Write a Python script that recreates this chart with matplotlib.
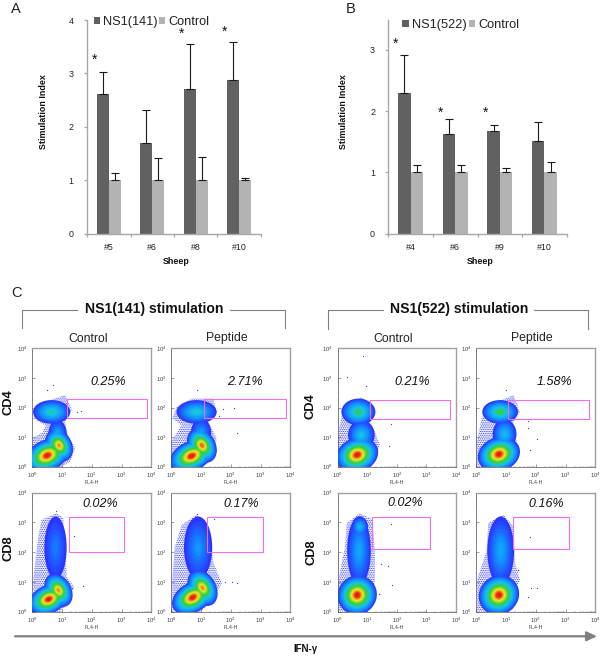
# Stimulation index bars (A, B) and flow cytometry panels (C)
import numpy as np
import matplotlib
matplotlib.use("Agg")
from matplotlib import pyplot as plt
from matplotlib.colors import LinearSegmentedColormap
from matplotlib.patches import Ellipse, Polygon, Rectangle

plt.rcParams['font.family'] = ['Liberation Sans', 'DejaVu Sans']
plt.rcParams['hatch.linewidth'] = 0.6

# bar data, tops are the upper end of the error bars
sheep_a = ["#5", "#6", "#8", "#10"]
ns1_141 = [2.62, 1.70, 2.70, 2.88]
ns1_141_top = [3.02, 2.31, 3.55, 3.58]
control_a = [1, 1, 1, 1]
control_a_top = [1.13, 1.41, 1.44, 1.04]
stars_a = [3.29, None, 3.77, 3.80]

sheep_b = ["#4", "#6", "#9", "#10"]
ns1_522 = [2.30, 1.62, 1.68, 1.52]
ns1_522_top = [2.92, 1.87, 1.78, 1.82]
control_b = [1, 1, 1, 1]
control_b_top = [1.12, 1.12, 1.07, 1.17]
stars_b = [3.13, 2.00, 2.00, None]

# flow panels, everything in log10 units of the axes
# gates: x0, x1, y0, y1
gate_p1 = [1.16, 3.85, 1.64, 2.28]
gate_p2 = [1.10, 3.85, 1.64, 2.28]
gate_p3 = [1.09, 3.81, 1.60, 2.24]
gate_p4 = [1.06, 3.80, 1.60, 2.24]
gate_p5 = [1.23, 3.09, 2.00, 3.17]
gate_p6 = [1.21, 3.09, 2.00, 3.17]
gate_p7 = [1.17, 3.13, 2.10, 3.17]
gate_p8 = [1.23, 3.10, 2.10, 3.17]

# outline of the speckled fringe of events
cloud_p1 = [(.03, 1.63), (.15, 2.08), (.6, 2.25), (1.10, 2.42), (1.33, 1.91), (1.10, 1.52), (1.16, 1.18),
            (1.44, .62), (1.27, .17), (.99, 0), (0, 0), (0, .95), (.37, 1.18), (.43, 1.40)]
cloud_p2 = [(.03, 1.63), (.18, 2.02), (.69, 2.30), (1.42, 2.30), (1.53, 1.80), (1.25, 1.52), (1.53, .95),
            (1.36, .39), (1.08, 0), (0, 0), (0, .84), (.35, 1.40)]
cloud_p3 = [(.02, 1.18), (.19, 1.97), (.81, 2.36), (1.26, 1.97), (1.09, 1.52), (1.26, 1.18),
            (1.43, .73), (1.15, 0), (0, 0)]
cloud_p4 = [(.02, .84), (.18, 1.63), (.46, 2.08), (1.25, 2.42), (1.47, 1.85), (1.19, 1.40),
            (1.36, .84), (1.13, 0), (0, 0)]
cloud_p5 = [(.03, .28), (.03, 1.07), (.2, 2.53), (.31, 3.09), (.82, 3.31), (1.04, 3.15), (1.10, 1.97),
            (1.16, 1.18), (1.40, .84), (1.21, .28), (.93, 0), (0, 0)]
cloud_p6 = [(.03, .28), (.03, 1.07), (.12, 2.19), (.35, 2.92), (.85, 3.26), (1.25, 2.87), (1.42, 1.63),
            (1.70, .96), (1.30, .28), (.97, 0), (0, 0)]
cloud_p7 = [(.02, .28), (.02, 1.07), (.25, 2.19), (.3, 2.98), (.75, 3.31), (1.18, 3.09), (1.26, 1.97),
            (1.26, 1.07), (1.2, .62), (.98, 0), (0, 0)]
cloud_p8 = [(.03, .28), (.03, 1.07), (.35, 2.08), (.4, 2.98), (.91, 3.26), (1.25, 2.87), (1.3, 1.63),
            (1.47, 1.07), (1.08, .28), (.8, 0), (0, 0)]

# dense spots: x, y, width, height, angle, hottest colour level (0 blue .. 5 red)
spots_p1 = [(.65, 1.85, 1.25, .80, 0, 2.4), (.85, 1.10, .62, .95, 0, 1.5),
            (.50, .38, 1.55, 1.05, 25, 5), (.90, .72, .85, 1.15, 30, 4.4)]
spots_p2 = [(.85, 1.85, 1.35, .80, 0, 2.2), (1.0, 1.15, .68, .95, 0, 1.3),
            (.68, .36, 1.55, 1.00, 25, 5), (1.03, .72, .90, 1.25, 30, 4.6)]
spots_p3 = [(.70, 1.85, 1.15, .90, 0, 2.8), (.80, 1.07, .90, 1.00, 0, 2.0),
            (.66, .40, 1.45, 1.15, 20, 5)]
spots_p4 = [(.80, 1.85, 1.20, .80, 0, 3.0), (.95, 1.10, .80, 1.00, 0, 1.9),
            (.76, .42, 1.45, 1.15, 20, 5)]
spots_p5 = [(.78, 2.15, .75, 2.1, 0, 0.9), (.55, .42, 1.40, .95, 25, 5), (.88, .72, .85, 1.20, 30, 4.4)]
spots_p6 = [(.90, 2.15, .95, 2.1, 0, 1.2), (.72, .48, 1.50, 1.00, 30, 5), (1.05, .80, .90, 1.30, 30, 4.4)]
spots_p7 = [(.72, 2.05, .80, 2.3, 0, 1.5), (.75, 2.85, .55, .70, 0, 1.8), (.66, .56, 1.35, 1.30, 40, 5)]
spots_p8 = [(.82, 2.05, .90, 2.3, 0, 1.5), (.76, .56, 1.40, 1.30, 40, 5)]

# stray events outside the cloud
strays_p1 = [(1.5, 1.85), (1.65, 1.87), (.7, 2.75), (.5, 2.6)]
strays_p2 = [(1.75, 1.95), (2.1, 2.0), (2.2, 1.15), (.85, 2.6), (1.6, 1.7)]
strays_p3 = [(.87, 3.75), (.3, 3.03), (.95, 2.73), (1.8, 1.45), (1.75, .7)]
strays_p4 = [(1.0, 2.6), (1.75, 1.55), (2.05, .95), (1.8, .55), (1.75, 1.3)]
strays_p5 = [(1.35, .8), (1.7, .85), (1.4, 2.55), (.8, 3.4)]
strays_p6 = [(2.2, .95), (2.05, 1.0), (1.45, 3.1), (1.8, 1.0), (.85, 3.3)]
strays_p7 = [(1.8, 2.95), (1.7, 1.55), (1.85, .9), (1.4, .6), (1.45, 1.6)]
strays_p8 = [(1.8, 2.5), (1.85, .8), (2.05, .8), (1.75, .5), (1.4, 1.4)]

percents = ["0.25%", "2.71%", "0.21%", "1.58%", "0.02%", "0.17%", "0.02%", "0.16%"]
column_titles = ["Control", "Peptide", "Control", "Peptide"]

heat = LinearSegmentedColormap.from_list(
    'heat', ['#2a35ff', '#1090ff', '#18c4e6', '#35d03a', '#f5e820', '#ee1c18'])
STEPS = 26

W, H = 600, 656
fig = plt.figure(figsize=(6, 6.56), dpi=100)
GRAY = '#a8a8a8'


def px_axes(left, top, right, bottom):
    return fig.add_axes([left / W, 1 - bottom / H, (right - left) / W, (bottom - top) / H])


def px_text(x, y, s, **kw):
    kw.setdefault('ha', 'center')
    kw.setdefault('va', 'center')
    fig.text(x / W, 1 - y / H, s, **kw)


def px_line(xs, ys, **kw):
    fig.add_artist(plt.Line2D([x / W for x in xs], [1 - y / H for y in ys], **kw))


def bar_panel(box, ylim, ticks, cats, dark, dark_top, light, light_top, stars, names, leg_x, leg_y, col_gap):
    ax = px_axes(*box)
    x = np.arange(len(cats))
    w = 0.28
    bars1 = ax.bar(x - w / 2, dark, w, color='#616161', label=names[0])
    bars2 = ax.bar(x + w / 2, light, w, color='#b3b3b3', label=names[1])
    err = dict(ecolor='#1a1a1a', elinewidth=0.8, capsize=2.7, capthick=0.8, fmt='none')
    ax.errorbar(x - w / 2, dark, yerr=[[0] * 4, np.array(dark_top) - np.array(dark)], **err)
    ax.errorbar(x + w / 2, light, yerr=[[0] * 4, np.array(light_top) - np.array(light)], **err)
    for i, s in enumerate(stars):
        if s is not None:
            ax.text(i - 0.33, s, "*", ha='center', va='center_baseline', fontsize=10, color='#111111')
    ax.set_xlim(-0.5, 3.5)
    ax.set_ylim(*ylim)
    ax.set_yticks(ticks)
    ax.set_xticks(x, cats)
    ax.set_xticks(np.arange(-0.5, 4), minor=True)
    ax.tick_params(axis='x', which='major', length=0, pad=6.5, labelsize=6.4, labelcolor='#222222')
    ax.tick_params(axis='x', which='minor', length=2.5, color=GRAY, width=0.9)
    ax.tick_params(axis='y', length=2.5, color=GRAY, width=0.9, pad=7, labelsize=6.4, labelcolor='#222222')
    for side in ['top', 'right']:
        ax.spines[side].set_visible(False)
    for side in ['left', 'bottom']:
        ax.spines[side].set_color(GRAY)
        ax.spines[side].set_linewidth(1.0)
    ax.patch.set_alpha(0)
    leg = fig.legend(handles=[bars1, bars2], loc='center left', bbox_to_anchor=(leg_x / W, 1 - leg_y / H),
                     ncols=2, frameon=False, fontsize=9.2, borderpad=0, borderaxespad=0,
                     handlelength=0.5, handleheight=0.5, handletextpad=0.25, columnspacing=col_gap)
    for t in leg.get_texts():
        t.set_color('#222222')
    return ax


bar_panel((87, 20, 261, 233.5), (0, 4), [0, 1, 2, 3, 4], sheep_a, ns1_141, ns1_141_top, control_a, control_a_top,
          stars_a, ["NS1(141)", "Control"], 93.7, 22, 0.05)
bar_panel((388.3, 20, 566.7, 233.5), (0, 3.49), [0, 1, 2, 3], sheep_b, ns1_522, ns1_522_top, control_b, control_b_top,
          stars_b, ["NS1(522)", "Control"], 402.3, 25, 0.15)

label_font = dict(fontsize=6.4, fontweight='bold', color='#111111')
px_text(43, 112, "Stimulation Index", rotation=90, **label_font)
px_text(344, 112, "Stimulation Index", rotation=90, **label_font)
px_text(176, 262, "Sheep", **label_font)
px_text(480, 262, "Sheep", **label_font)

px_text(16, 9, "A", fontsize=10.5, color='#222222')
px_text(351, 9, "B", fontsize=10.5, color='#222222')
px_text(16, 293, "C", fontsize=10.5, color='#222222')


def flow_panel(box, gate, cloud, spots, strays):
    ax = px_axes(*box)
    # speckled edge first, then the dense spots going from blue up to red
    ax.add_patch(Polygon(cloud, closed=True, fc='none', ec='#2a35ff', lw=0, hatch='.........', zorder=1))
    for step in range(STEPS):
        level = 5 * step / (STEPS - 1)
        for cx, cy, w, h, ang, peak in spots:
            if peak >= level:
                scale = 1 - 0.88 * level / peak
                ax.add_patch(Ellipse((cx, cy), w * scale, h * scale, angle=ang,
                                     fc=heat(level / 5), ec='none', zorder=2 + step))
    ax.scatter([p[0] for p in strays], [p[1] for p in strays], s=0.8, color='#2a35ff', linewidths=0, zorder=2)
    ax.add_patch(Rectangle((gate[0], gate[2]), gate[1] - gate[0], gate[3] - gate[2],
                           fc='none', ec='#f26ee6', lw=0.8, zorder=40))
    ax.set_xlim(0, 4)
    ax.set_ylim(0, 4)
    decades = [0, 1, 2, 3, 4]
    labels = ["$\\mathregular{10^{%d}}$" % d for d in decades]
    minor = [d + np.log10(m) for d in range(4) for m in range(2, 10)]
    ax.set_xticks(decades, labels)
    ax.set_yticks(decades, labels)
    ax.set_xticks(minor, minor=True)
    ax.set_yticks(minor, minor=True)
    ax.tick_params(which='major', direction='in', length=2, width=0.4, color='#555555', labelsize=4.2,
                   labelcolor='#444444')
    ax.tick_params(axis='x', which='major', pad=2.8)
    ax.tick_params(axis='y', which='major', pad=3.6)
    ax.tick_params(which='minor', direction='in', length=1, width=0.3, color='#555555')
    ax.tick_params(top=False, right=False, which='both')
    ax.set_xlabel("FL4-H", fontsize=3.8, color='#444444', labelpad=0.3)
    for side in ['left', 'bottom']:
        ax.spines[side].set_color('#555555')
        ax.spines[side].set_linewidth(0.5)
    for side in ['top', 'right']:
        ax.spines[side].set_color('#a0a0a0')
        ax.spines[side].set_linewidth(1.0)


columns = [(32.3, 151.3), (171.3, 290.3), (337.7, 456), (476.3, 595.3)]
rows = [(348.3, 466.7), (492.7, 611.7)]
gates = [gate_p1, gate_p2, gate_p3, gate_p4, gate_p5, gate_p6, gate_p7, gate_p8]
clouds = [cloud_p1, cloud_p2, cloud_p3, cloud_p4, cloud_p5, cloud_p6, cloud_p7, cloud_p8]
spots = [spots_p1, spots_p2, spots_p3, spots_p4, spots_p5, spots_p6, spots_p7, spots_p8]
strays = [strays_p1, strays_p2, strays_p3, strays_p4, strays_p5, strays_p6, strays_p7, strays_p8]

for r, (top, bottom) in enumerate(rows):
    for c, (left, right) in enumerate(columns):
        i = r * 4 + c
        flow_panel((left, top, right, bottom), gates[i], clouds[i], spots[i], strays[i])

# percentages over the panels
pct_xy = [(108, 381.7), (245, 381.7), (412, 381.7), (554.7, 381.7),
          (100.7, 504), (241.7, 504), (405, 502.7), (546, 504)]
for (x, y), s in zip(pct_xy, percents):
    px_text(x, y, s, fontsize=9, fontstyle='italic', color='#111111')

for x, s in zip([88, 227, 393, 532], column_titles):
    px_text(x, 338.5, s, fontsize=8.8, color='#222222')

# brackets and group titles
bracket = dict(color='#808080', lw=0.8)
px_line([22, 22, 76.7], [328, 310, 310], **bracket)
px_line([230, 284.5, 284.5], [310, 310, 328], **bracket)
px_line([328.3, 328.3, 383], [329, 310, 310], **bracket)
px_line([534, 588, 588], [310, 310, 329], **bracket)
px_text(154.5, 309, "NS1(141) stimulation", fontsize=10.1, fontweight='bold', color='#111111')
px_text(459, 309.5, "NS1(522) stimulation", fontsize=10.1, fontweight='bold', color='#111111')

for x, y, s in [(8, 402, "CD4"), (8, 548, "CD8"), (311, 405.7, "CD4"), (311.7, 551.7, "CD8")]:
    px_text(x, y, s, rotation=90, fontsize=9.3, fontweight='bold', color='#111111')

# IFN-gamma arrow along the bottom
ax_arrow = fig.add_axes([0, 0, 1, 1], facecolor='none')
ax_arrow.set_xlim(0, W)
ax_arrow.set_ylim(H, 0)
ax_arrow.axis('off')
ax_arrow.annotate("", xy=(597, 636.3), xytext=(15, 636.3),
                  arrowprops=dict(arrowstyle='-|>,head_width=0.28,head_length=0.6', color='#808080', lw=1.6,
                                  shrinkA=0, shrinkB=0))
px_text(305, 649, "IFN-γ", fontsize=7, fontweight='bold', color='#111111')

plt.savefig("out.png", dpi=100)
